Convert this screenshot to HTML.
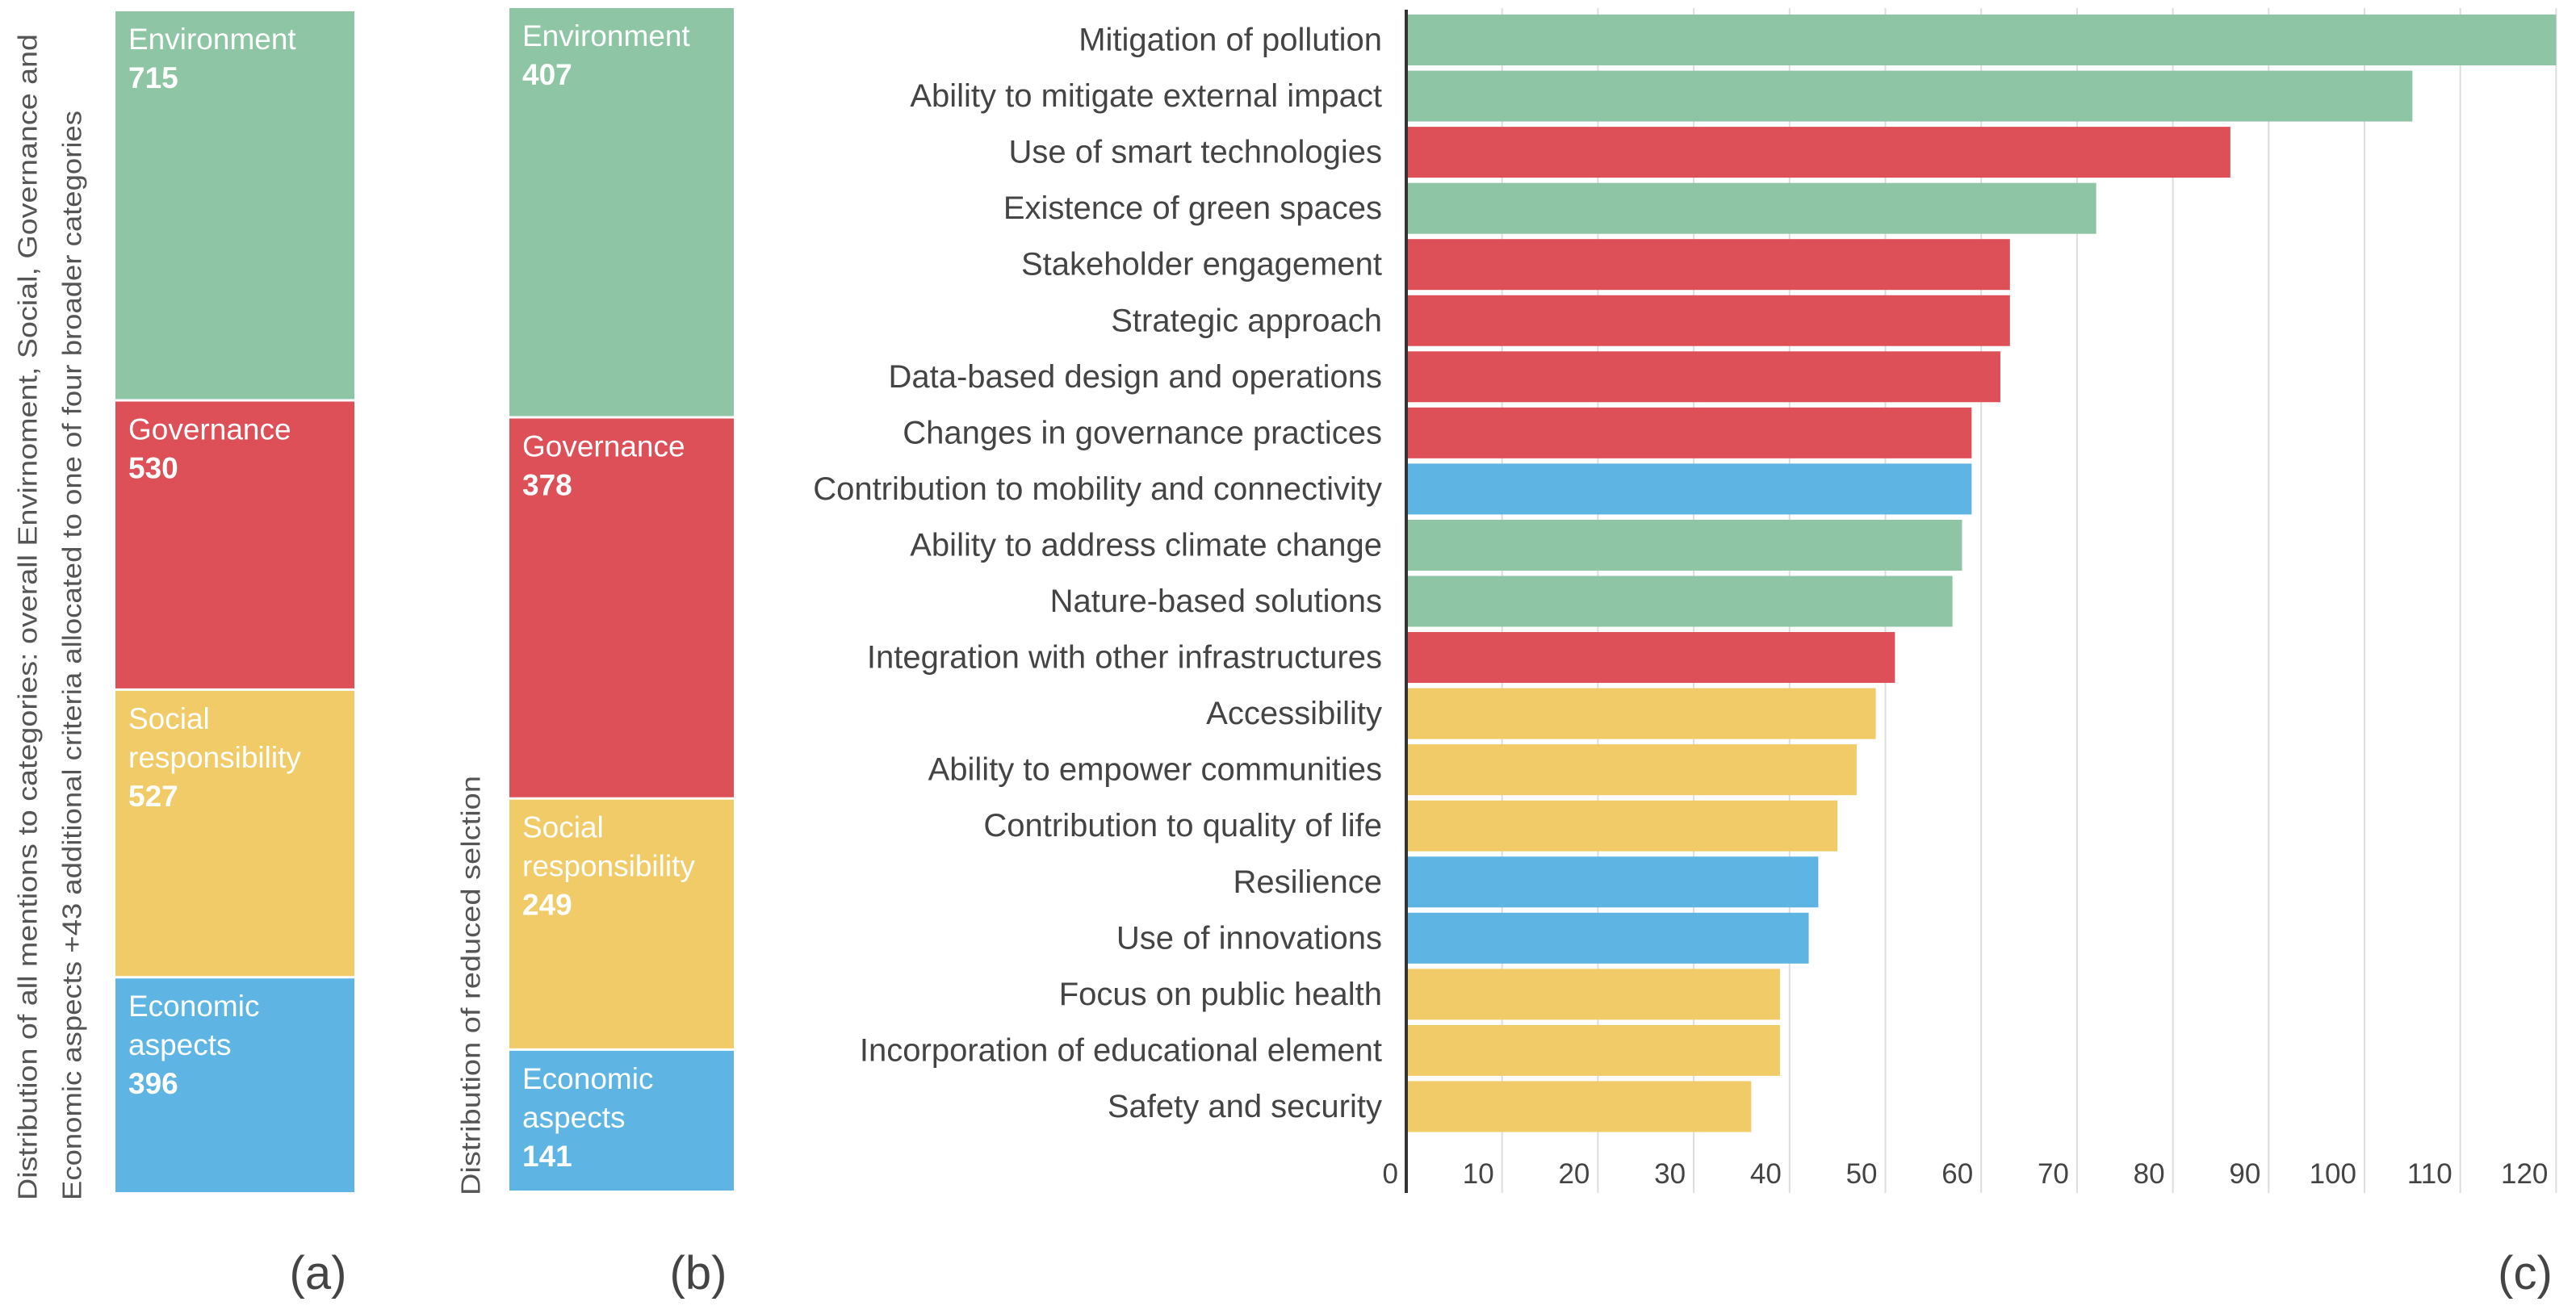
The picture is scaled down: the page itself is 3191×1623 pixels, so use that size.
<!DOCTYPE html>
<html><head><meta charset="utf-8"><style>
html,body{margin:0;padding:0;background:#fff;}
svg{display:block;font-family:"Liberation Sans",sans-serif;}
</style></head><body>
<svg id="chart" width="3191" height="1623" viewBox="0 0 3191 1623">
<g id="pa"></g>
<g id="pb"></g>
<g id="pc"></g>
<text x="37" y="1487" transform="rotate(-90 37 1487)" font-size="33" fill="#555" textLength="1445" lengthAdjust="spacingAndGlyphs" dominant-baseline="middle">Distribution of all mentions to categories: overall Envirnoment, Social, Governance and</text>
<text x="92" y="1487" transform="rotate(-90 92 1487)" font-size="33" fill="#555" textLength="1350" lengthAdjust="spacingAndGlyphs" dominant-baseline="middle">Economic aspects +43 additional criteria allocated to one of four broader categories</text>
<text x="586" y="1481" transform="rotate(-90 586 1481)" font-size="33" fill="#555" textLength="520" lengthAdjust="spacingAndGlyphs" dominant-baseline="middle">Distribution of reduced selction</text>
<text x="394" y="1597" font-size="58" fill="#444" text-anchor="middle">(a)</text>
<text x="865" y="1597" font-size="58" fill="#444" text-anchor="middle">(b)</text>
<text x="3128" y="1597" font-size="58" fill="#444" text-anchor="middle">(c)</text>
</svg>
<script>
const stackNames=[["Environment"],["Governance"],["Social","responsibility"],["Economic","aspects"]];
const stackColors=["#8dc5a5","#de5057","#f0cb68","#5eb5e3"];
const stackA=[715,530,527,396];
const stackB=[407,378,249,141];

const cats=["Mitigation of pollution","Ability to mitigate external impact","Use of smart technologies","Existence of green spaces","Stakeholder engagement","Strategic approach","Data-based design and operations","Changes in governance practices","Contribution to mobility and connectivity","Ability to address climate change","Nature-based solutions","Integration with other infrastructures","Accessibility","Ability to empower communities","Contribution to quality of life","Resilience","Use of innovations","Focus on public health","Incorporation of educational element","Safety and security"];
const vals=[120,105,86,72,63,63,62,59,59,58,57,51,49,47,45,43,42,39,39,36];
const catGroup=[0,0,1,0,1,1,1,1,3,0,0,1,2,2,2,3,3,2,2,2];
const ticks=[0,10,20,30,40,50,60,70,80,90,100,110,120];

const NS="http://www.w3.org/2000/svg";
function mk(tag,attrs,parent){const e=document.createElementNS(NS,tag);for(const k in attrs)e.setAttribute(k,attrs[k]);parent.appendChild(e);return e;}

function stack(gid,data,x0,w,y0,y1,prefix){
  const g=document.getElementById(gid);
  const tot=data.reduce((a,b)=>a+b,0);
  const sc=(y1-y0)/tot;
  let y=y0;
  data.forEach((v,i)=>{
    const h=v*sc;
    const r=mk('rect',{x:x0,y:y,width:w,height:h-3,fill:stackColors[i]},g);
    
    
    const lines=stackNames[i].concat([String(v)]);
    lines.forEach((t,j)=>{
      const tx=mk('text',{x:x0+16,y:y+47+j*48,'font-size':37,'font-weight':j==lines.length-1?'bold':'normal',fill:'#fff'},g);
      tx.textContent=t;
      
      
    });
    y+=h;
  });
}
stack('pa',stackA,143,296,14,1480,'panel-a');
stack('pb',stackB,631,278,10,1478,'panel-b');

const gc=document.getElementById('pc');
const ax0=1742, unit=11.87, barTop=18, pitch=69.55, bh=63;
const xs=v=>ax0+v*unit;
ticks.forEach(t=>{
  if(t>0){const l=mk('line',{x1:xs(t),x2:xs(t),y1:10,y2:1478,stroke:'#ddd','stroke-width':2},gc);
  
  }
  const tx=mk('text',{x:xs(t)-10,y:1466,'font-size':35,fill:'#444','text-anchor':'end'},gc);
  tx.textContent=t;
  
  
});
cats.forEach((c,i)=>{
  const y=barTop+i*pitch;
  const r=mk('rect',{x:ax0,y:y,width:xs(vals[i])-ax0,height:bh,fill:stackColors[catGroup[i]]},gc);
  
  
  const tx=mk('text',{x:1712,y:y+bh/2+13,'font-size':40,fill:'#444','text-anchor':'end'},gc);
  tx.textContent=c;
  
  
});
const ax=mk('line',{x1:ax0,x2:ax0,y1:12,y2:1478,stroke:'#333','stroke-width':4},gc);


</script>
</body></html>
